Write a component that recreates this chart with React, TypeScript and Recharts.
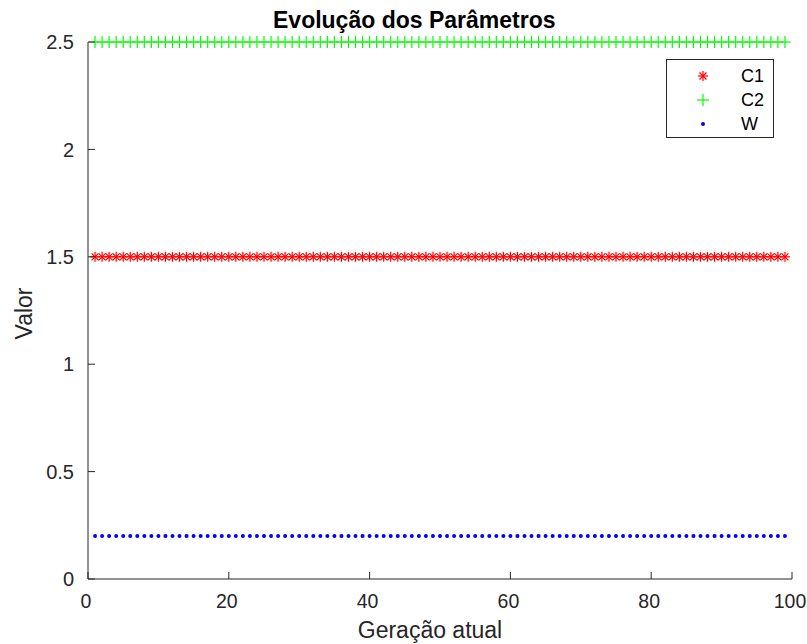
import React from 'react';
import { ComposedChart, Line, XAxis, YAxis, Label } from 'recharts';

const FONT = '"Liberation Sans", Arial, Helvetica, sans-serif';
const AXIS_COLOR = '#262626';

// Geração (x) e valores de cada parâmetro
const generations = [
  1, 2, 3, 4, 5, 6, 7, 8, 9, 10, 11, 12, 13, 14, 15, 16, 17, 18, 19, 20,
  21, 22, 23, 24, 25, 26, 27, 28, 29, 30, 31, 32, 33, 34, 35, 36, 37, 38, 39, 40,
  41, 42, 43, 44, 45, 46, 47, 48, 49, 50, 51, 52, 53, 54, 55, 56, 57, 58, 59, 60,
  61, 62, 63, 64, 65, 66, 67, 68, 69, 70, 71, 72, 73, 74, 75, 76, 77, 78, 79, 80,
  81, 82, 83, 84, 85, 86, 87, 88, 89, 90, 91, 92, 93, 94, 95, 96, 97, 98, 99
];

const c1Values = [
  1.5, 1.5, 1.5, 1.5, 1.5, 1.5, 1.5, 1.5, 1.5, 1.5, 1.5, 1.5, 1.5, 1.5, 1.5, 1.5, 1.5, 1.5, 1.5, 1.5,
  1.5, 1.5, 1.5, 1.5, 1.5, 1.5, 1.5, 1.5, 1.5, 1.5, 1.5, 1.5, 1.5, 1.5, 1.5, 1.5, 1.5, 1.5, 1.5, 1.5,
  1.5, 1.5, 1.5, 1.5, 1.5, 1.5, 1.5, 1.5, 1.5, 1.5, 1.5, 1.5, 1.5, 1.5, 1.5, 1.5, 1.5, 1.5, 1.5, 1.5,
  1.5, 1.5, 1.5, 1.5, 1.5, 1.5, 1.5, 1.5, 1.5, 1.5, 1.5, 1.5, 1.5, 1.5, 1.5, 1.5, 1.5, 1.5, 1.5, 1.5,
  1.5, 1.5, 1.5, 1.5, 1.5, 1.5, 1.5, 1.5, 1.5, 1.5, 1.5, 1.5, 1.5, 1.5, 1.5, 1.5, 1.5, 1.5, 1.5
];

const c2Values = [
  2.5, 2.5, 2.5, 2.5, 2.5, 2.5, 2.5, 2.5, 2.5, 2.5, 2.5, 2.5, 2.5, 2.5, 2.5, 2.5, 2.5, 2.5, 2.5, 2.5,
  2.5, 2.5, 2.5, 2.5, 2.5, 2.5, 2.5, 2.5, 2.5, 2.5, 2.5, 2.5, 2.5, 2.5, 2.5, 2.5, 2.5, 2.5, 2.5, 2.5,
  2.5, 2.5, 2.5, 2.5, 2.5, 2.5, 2.5, 2.5, 2.5, 2.5, 2.5, 2.5, 2.5, 2.5, 2.5, 2.5, 2.5, 2.5, 2.5, 2.5,
  2.5, 2.5, 2.5, 2.5, 2.5, 2.5, 2.5, 2.5, 2.5, 2.5, 2.5, 2.5, 2.5, 2.5, 2.5, 2.5, 2.5, 2.5, 2.5, 2.5,
  2.5, 2.5, 2.5, 2.5, 2.5, 2.5, 2.5, 2.5, 2.5, 2.5, 2.5, 2.5, 2.5, 2.5, 2.5, 2.5, 2.5, 2.5, 2.5
];

const wValues = [
  0.2, 0.2, 0.2, 0.2, 0.2, 0.2, 0.2, 0.2, 0.2, 0.2, 0.2, 0.2, 0.2, 0.2, 0.2, 0.2, 0.2, 0.2, 0.2, 0.2,
  0.2, 0.2, 0.2, 0.2, 0.2, 0.2, 0.2, 0.2, 0.2, 0.2, 0.2, 0.2, 0.2, 0.2, 0.2, 0.2, 0.2, 0.2, 0.2, 0.2,
  0.2, 0.2, 0.2, 0.2, 0.2, 0.2, 0.2, 0.2, 0.2, 0.2, 0.2, 0.2, 0.2, 0.2, 0.2, 0.2, 0.2, 0.2, 0.2, 0.2,
  0.2, 0.2, 0.2, 0.2, 0.2, 0.2, 0.2, 0.2, 0.2, 0.2, 0.2, 0.2, 0.2, 0.2, 0.2, 0.2, 0.2, 0.2, 0.2, 0.2,
  0.2, 0.2, 0.2, 0.2, 0.2, 0.2, 0.2, 0.2, 0.2, 0.2, 0.2, 0.2, 0.2, 0.2, 0.2, 0.2, 0.2, 0.2, 0.2
];

const seriesNames = ['C1', 'C2', 'W'];
const xTicks = [0, 20, 40, 60, 80, 100];
const yTicks = [0, 0.5, 1, 1.5, 2, 2.5];

const rows = generations.map((g, i) => ({
  geracao: g,
  C1: c1Values[i],
  C2: c2Values[i],
  W: wValues[i]
}));

// marcadores estilo MATLAB
const Asterisk = ({ cx, cy }: any) => {
  const r = 5;
  const d = r * 0.7;
  return (
    <g stroke="#ff0000" strokeWidth={1.2}>
      <line x1={cx - r} y1={cy} x2={cx + r} y2={cy} />
      <line x1={cx} y1={cy - r} x2={cx} y2={cy + r} />
      <line x1={cx - d} y1={cy - d} x2={cx + d} y2={cy + d} />
      <line x1={cx - d} y1={cy + d} x2={cx + d} y2={cy - d} />
    </g>
  );
};

const Plus = ({ cx, cy }: any) => {
  const r = 6;
  return (
    <g stroke="#00ff00" strokeWidth={1.2}>
      <line x1={cx - r} y1={cy} x2={cx + r} y2={cy} />
      <line x1={cx} y1={cy - r} x2={cx} y2={cy + r} />
    </g>
  );
};

const Dot = ({ cx, cy }: any) => <circle cx={cx} cy={cy} r={2} fill="#0000ff" />;

const markers: Record<string, (p: any) => React.ReactElement> = {
  C1: Asterisk,
  C2: Plus,
  W: Dot
};

const YTick = ({ x, y, payload }: any) => (
  <g>
    <line x1={x} x2={x + 7} y1={y} y2={y} stroke={AXIS_COLOR} />
    <text x={x - 14} y={y} dy="0.36em" textAnchor="end" fill={AXIS_COLOR} fontSize={20} fontFamily={FONT}>
      {payload.value}
    </text>
  </g>
);

const XTick = ({ x, y, payload }: any) => (
  <g>
    <line x1={x} x2={x} y1={y} y2={y - 7} stroke={AXIS_COLOR} />
    <text x={x - 2} y={y + 29} textAnchor="middle" fill={AXIS_COLOR} fontSize={19.5} fontFamily={FONT}>
      {payload.value}
    </text>
  </g>
);

const XLabel = ({ viewBox }: any) => (
  <text
    x={viewBox.x + viewBox.width / 2 - 10}
    y={638}
    textAnchor="middle"
    fill={AXIS_COLOR}
    fontSize={23}
    fontFamily={FONT}
  >
    Geração atual
  </text>
);

const YLabel = ({ viewBox }: any) => {
  const cy = viewBox.y + viewBox.height / 2 + 3;
  return (
    <text
      x={32}
      y={cy}
      transform={`rotate(-90, 32, ${cy})`}
      textAnchor="middle"
      fill={AXIS_COLOR}
      fontSize={23}
      fontFamily={FONT}
    >
      Valor
    </text>
  );
};

const LegendBox = () => (
  <div
    style={{
      position: 'absolute',
      left: 666,
      top: 59,
      width: 108,
      height: 79,
      boxSizing: 'border-box',
      border: `1px solid ${AXIS_COLOR}`,
      background: '#fff',
      paddingTop: 4,
      fontFamily: FONT,
      fontSize: 18,
      color: '#000'
    }}
  >
    {seriesNames.map((name) => {
      const Marker = markers[name];
      return (
        <div key={name} style={{ display: 'flex', alignItems: 'center', height: 24 }}>
          <svg width={74} height={24} style={{ display: 'block' }}>
            <Marker cx={36} cy={12} />
          </svg>
          <span>{name}</span>
        </div>
      );
    })}
  </div>
);

export default function App() {
  return (
    <div style={{ position: 'absolute', left: 0, top: 0, width: 807, height: 644, background: '#fff' }}>
      <ComposedChart width={807} height={644} data={rows} margin={{ top: 42, right: 15, bottom: 0, left: 0 }}>
        <XAxis
          type="number"
          dataKey="geracao"
          domain={[0, 100]}
          ticks={xTicks}
          interval={0}
          height={65}
          tickLine={false}
          tickSize={0}
          tickMargin={0}
          tick={<XTick />}
          axisLine={{ stroke: AXIS_COLOR }}
        >
          <Label content={<XLabel />} />
        </XAxis>
        <YAxis
          type="number"
          domain={[0, 2.5]}
          ticks={yTicks}
          interval={0}
          width={88}
          tickLine={false}
          tickSize={0}
          tickMargin={0}
          tick={<YTick />}
          axisLine={{ stroke: AXIS_COLOR }}
        >
          <Label content={<YLabel />} />
        </YAxis>
        <Line
          dataKey="C1"
          name="C1"
          stroke="none"
          isAnimationActive={false}
          activeDot={false}
          dot={(p: any) => <Asterisk key={`c1-${p.index}`} cx={p.cx} cy={p.cy} />}
        />
        <Line
          dataKey="C2"
          name="C2"
          stroke="none"
          isAnimationActive={false}
          activeDot={false}
          dot={(p: any) => <Plus key={`c2-${p.index}`} cx={p.cx} cy={p.cy} />}
        />
        <Line
          dataKey="W"
          name="W"
          stroke="none"
          isAnimationActive={false}
          activeDot={false}
          dot={(p: any) => <Dot key={`w-${p.index}`} cx={p.cx} cy={p.cy} />}
        />
      </ComposedChart>
      <div
        style={{
          position: 'absolute',
          left: 273,
          top: 9,
          whiteSpace: 'nowrap',
          fontFamily: FONT,
          fontWeight: 'bold',
          fontSize: 23,
          lineHeight: '23px',
          color: '#000'
        }}
      >
        Evolução dos Parâmetros
      </div>
      <LegendBox />
    </div>
  );
}
